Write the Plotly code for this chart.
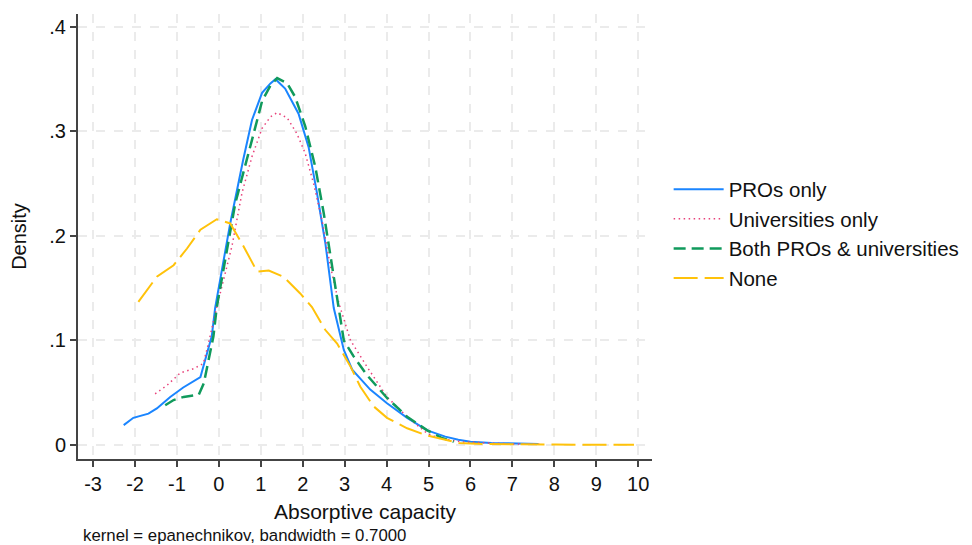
import plotly.graph_objects as go

# PROs only
pro_x = [-2.27,-2.04,-1.68,-1.48,-1.16,-0.85,-0.44,-0.17,-0.09,0.27,0.58,0.79,1.03,1.23,1.35,1.58,1.90,2.14,2.34,2.54,2.74,2.98,3.18,3.61,4.01,4.49,4.97,5.4,5.71,6.0,6.5,7.0,7.62]
pro_y = [0.019,0.026,0.030,0.035,0.046,0.055,0.065,0.104,0.131,0.212,0.273,0.311,0.337,0.346,0.350,0.341,0.317,0.285,0.241,0.193,0.131,0.091,0.072,0.053,0.040,0.026,0.014,0.008,0.005,0.003,0.002,0.0015,0.001]

# Universities only
uni_x = [-1.52,-1.24,-0.92,-0.60,-0.37,-0.25,-0.05,0.31,0.55,0.79,1.03,1.23,1.39,1.63,1.86,2.06,2.26,2.46,2.66,2.86,3.14,3.53,4.01,4.49,4.97,5.28,5.8,6.5,7.0,7.7]
uni_y = [0.049,0.057,0.069,0.073,0.078,0.097,0.132,0.190,0.241,0.276,0.303,0.314,0.318,0.313,0.298,0.279,0.250,0.215,0.171,0.136,0.100,0.075,0.046,0.027,0.011,0.006,0.003,0.0015,0.001,0.0008]

# Both PROs & universities
both_x = [-1.28,-1.08,-0.84,-0.48,-0.36,-0.25,-0.13,-0.05,0.39,0.79,1.03,1.23,1.39,1.63,1.82,2.06,2.30,2.50,2.70,2.86,2.98,3.21,3.53,4.01,4.49,4.97,5.3,5.6]
both_y = [0.038,0.043,0.046,0.048,0.059,0.081,0.104,0.132,0.231,0.292,0.329,0.344,0.351,0.346,0.333,0.305,0.266,0.222,0.171,0.131,0.100,0.085,0.067,0.045,0.027,0.014,0.007,0.003]

# None
none_x = [-1.92,-1.48,-1.08,-0.76,-0.44,-0.05,0.27,0.59,0.91,1.19,1.54,1.94,2.22,2.54,2.82,3.14,3.37,3.69,4.01,4.49,4.97,5.72,6.3,7.0,8.0,9.0,9.9]
none_y = [0.137,0.161,0.172,0.188,0.206,0.216,0.212,0.190,0.166,0.167,0.161,0.145,0.132,0.110,0.097,0.075,0.056,0.037,0.026,0.016,0.009,0.002,0.001,0.0006,0.0004,0.0003,0.0003]

x_ticks = [-3,-2,-1,0,1,2,3,4,5,6,7,8,9,10]
x_labels = ["-3","-2","-1","0","1","2","3","4","5","6","7","8","9","10"]
y_ticks = [0,0.1,0.2,0.3,0.4]
y_labels = ["0",".1",".2",".3",".4"]

FONT = "Liberation Sans, Arial, sans-serif"

fig = go.Figure()
fig.add_trace(go.Scatter(x=pro_x, y=pro_y, mode="lines", name="PROs only", legendgroup="a",
                         line=dict(color="#1a85ff", width=2)))
fig.add_trace(go.Scatter(x=uni_x, y=uni_y, mode="lines", name="Universities only", legendgroup="b",
                         line=dict(color="#e8417a", width=1.5, dash="1.5px,3.5px")))
fig.add_trace(go.Scatter(x=both_x, y=both_y, mode="lines", name="Both PROs & universities", legendgroup="c",
                         line=dict(color="#109a5c", width=2.5, dash="12px,6px")))
fig.add_trace(go.Scatter(x=none_x, y=none_y, mode="lines", name="None", legendgroup="d",
                         line=dict(color="#ffc20a", width=2, dash="24px,7px")))

axis_common = dict(
    showline=True, linecolor="#444444", linewidth=2, automargin=False,
    ticks="outside", ticklen=6, tickwidth=1.5, tickcolor="#444444",
    showgrid=True, gridcolor="#ebebeb", gridwidth=1.5, griddash="dash",
    zeroline=False, tickfont=dict(family=FONT, size=20, color="#111111"),
)

# page body has an 8px default margin, so the figure is 8px smaller each way
fig.update_layout(
    width=964, height=537,
    margin=dict(l=70, r=320, t=6, b=86, autoexpand=False),
    paper_bgcolor="white", plot_bgcolor="white",
    font=dict(family=FONT, color="#111111"),
    xaxis=dict(range=[-3.36, 10.33], tickvals=x_ticks, ticktext=x_labels,
               title=dict(text="Absorptive capacity", font=dict(size=21), standoff=10),
               **axis_common),
    yaxis=dict(range=[-0.0134, 0.4124], tickvals=y_ticks, ticktext=y_labels,
               title=dict(text="Density", font=dict(size=20), standoff=17),
               **axis_common),
    legend=dict(x=1.029, y=0.651, xanchor="left", yanchor="top",
                font=dict(family=FONT, size=20.5, color="#111111"),
                itemwidth=50, tracegroupgap=0, bgcolor="rgba(0,0,0,0)"),
    showlegend=True,
)

fig.add_annotation(text="kernel = epanechnikov, bandwidth = 0.7000",
                   xref="paper", yref="paper", x=0.006, y=-0.197,
                   xanchor="left", yanchor="bottom", showarrow=False,
                   font=dict(family=FONT, size=16.8, color="#111111"))

fig.write_html("out.html")
